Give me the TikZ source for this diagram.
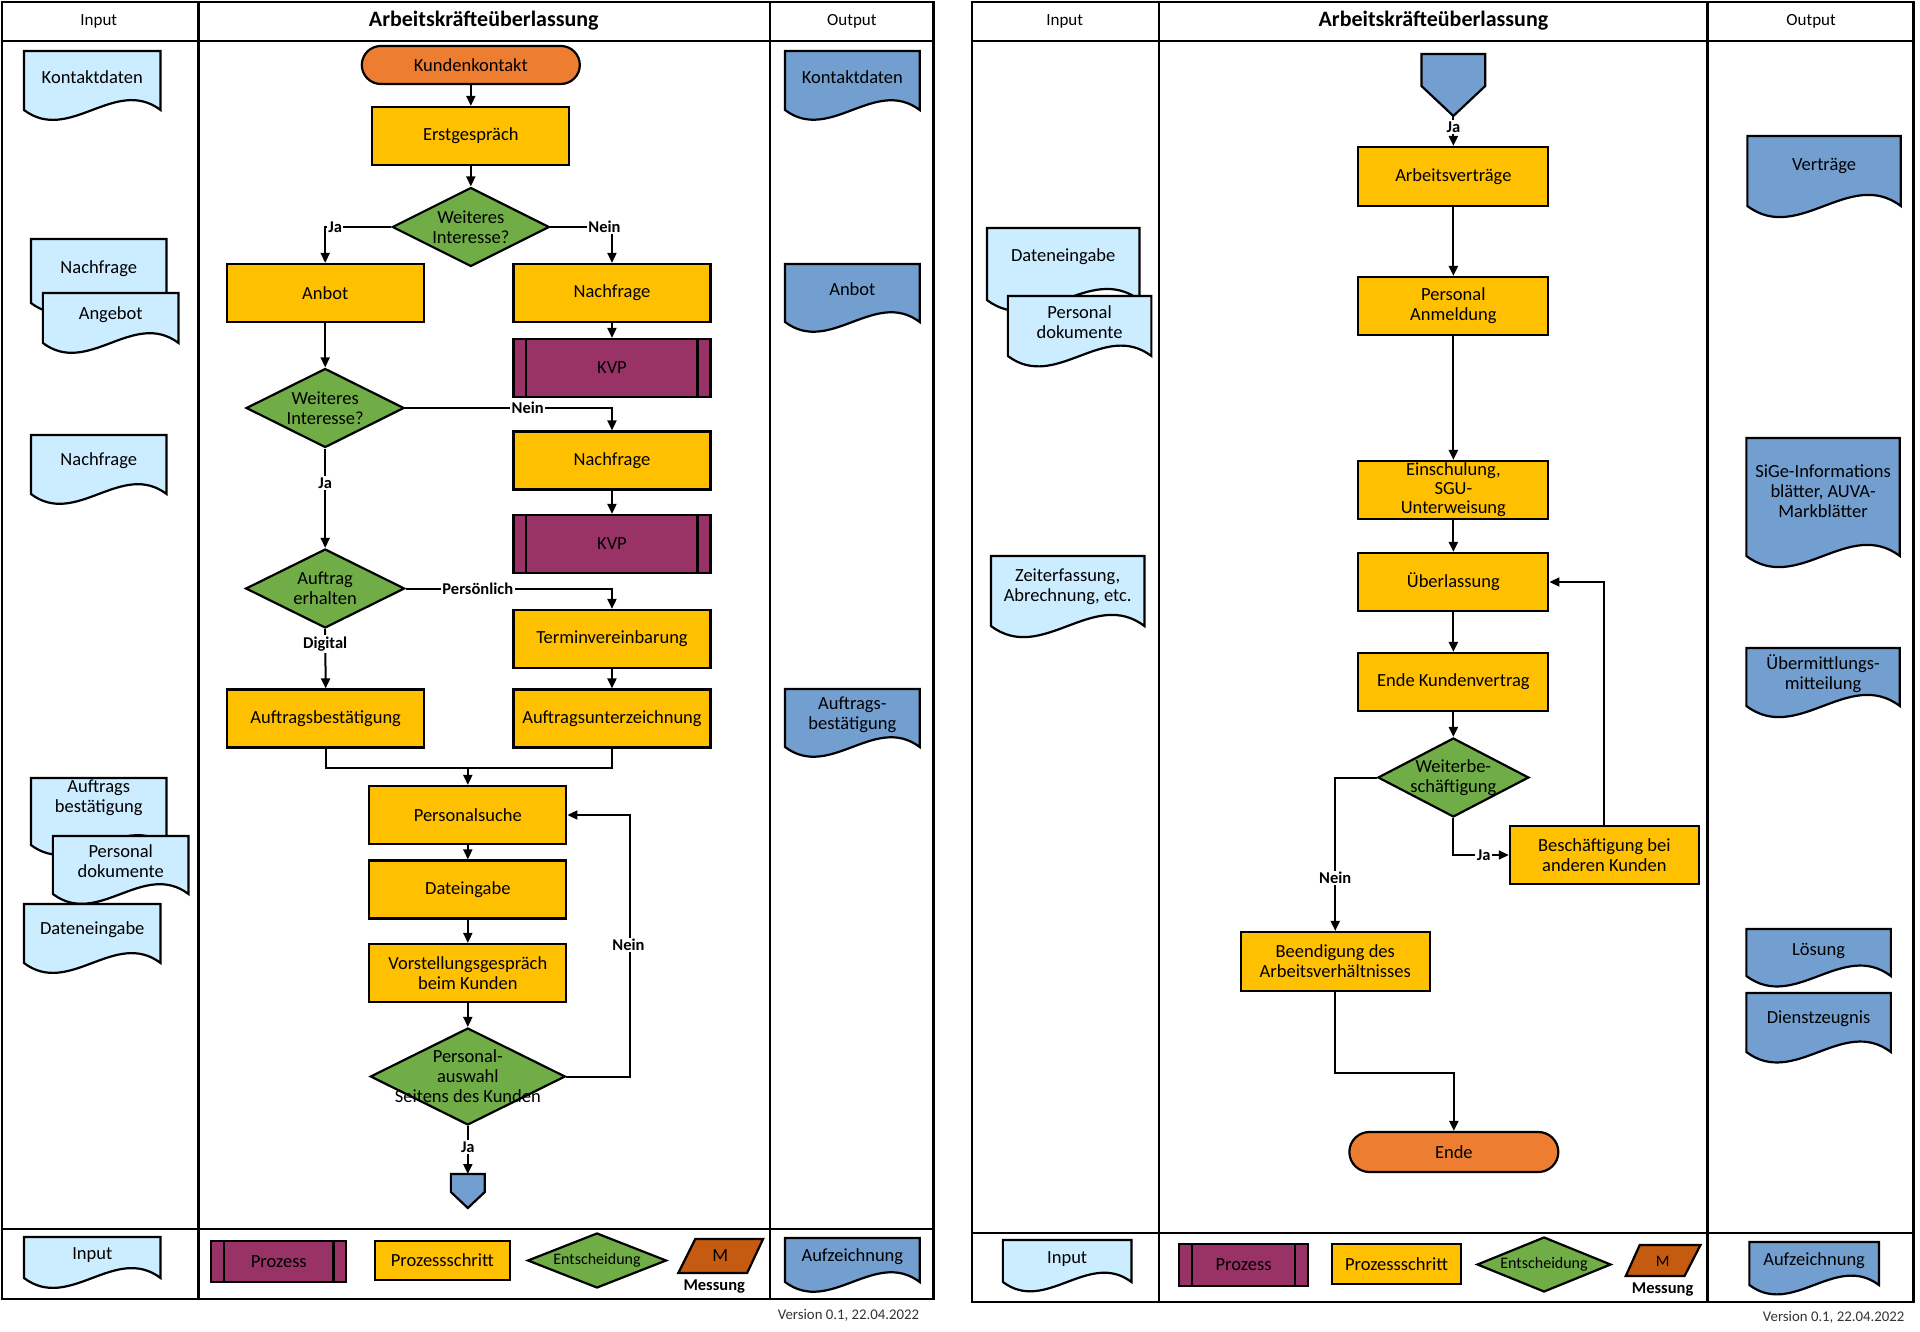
\documentclass[tikz,border=0pt]{standalone}
\usepackage{fontspec}
\setmainfont{Carlito}
\usetikzlibrary{shapes.geometric,arrows.meta,calc}
\definecolor{inblue}{RGB}{204,236,255}
\definecolor{outblue}{RGB}{114,159,207}
\definecolor{stepyel}{RGB}{255,192,0}
\definecolor{decgreen}{RGB}{112,173,71}
\definecolor{procpur}{RGB}{153,51,102}
\definecolor{termor}{RGB}{237,125,49}
\definecolor{measor}{RGB}{197,90,17}
\tikzset{
 shapeline/.style={line width=2.2pt, draw=black},
 ntext/.style={font=\fontsize{18.5}{20}\selectfont, align=center, inner sep=0pt},
 stepbox/.style={rectangle, shapeline, fill=stepyel, minimum width=197pt, minimum height=58pt, ntext},
 procbox/.style={rectangle, shapeline, fill=procpur, minimum width=197pt, minimum height=58pt, ntext},
 termbox/.style={rectangle, rounded corners=19pt, shapeline, fill=termor, ntext},
 decbox/.style={diamond, shapeline, fill=decgreen, inner sep=0pt},
 conn/.style={line width=2pt, -{Triangle[length=10pt,width=9pt]}},
 plainline/.style={line width=2pt},
 lab/.style={font=\bfseries\fontsize{16.5}{18}\selectfont, fill=white, inner sep=1.5pt},
 tabline/.style={line width=2.2pt},
 hdr/.style={font=\fontsize{17}{20}\selectfont},
 titletext/.style={font=\bfseries\fontsize{22}{24}\selectfont},
 vers/.style={anchor=east, font=\fontsize{14.8}{16}\selectfont, text=black!80},
 meslab/.style={font=\bfseries\fontsize{16.5}{18}\selectfont},
 dectext/.style={ntext, font=\fontsize{16}{18}\selectfont},
}
% #1 name, #2 left, #3 top, #4 right, #5 side bottom, #6 fill, #7 text y, #8 text
\newcommand{\docu}[8]{%
 \filldraw[shapeline, fill=#6] (#2,#3) -- (#4,#3) -- (#4,#5)
   .. controls ({#4-(#4-#2)/3},{#5-0.25*(#4-#2)}) and ({#2+(#4-#2)/3},{#5+0.25*(#4-#2)}) .. (#2,#5) -- cycle;
 \node[ntext] (#1) at ({(#2+#4)/2},#7) {#8};}
\newcommand{\procbars}[1]{%
 \draw[shapeline] ([xshift=14pt]#1.north west) -- ([xshift=14pt]#1.south west)
   ([xshift=-14pt]#1.north east) -- ([xshift=-14pt]#1.south east);}
\begin{document}
\begin{tikzpicture}[x=1pt,y=-1pt]
\fill[white] (0,0) rectangle (1920,1332);
\useasboundingbox (0,0) rectangle (1920,1332);

% ================= LEFT TABLE =================
\begin{scope}[x=0.9975pt]
\draw[tabline] (2,41) -- (936,41) (2,1229) -- (936,1229) (199,2) -- (199,1299) (772,2) -- (772,1299);
\draw[line width=2.6pt] (2,2) rectangle (936,1299);
\node[hdr] (hInL) at (99,21) {Input};
\node[titletext] (hTitL) at (485,21) {Arbeitskräfteüberlassung};
\node[hdr] (hOutL) at (854,21) {Output};

% input docs
\docu{inKon}{24}{51}{161}{110}{inblue}{77}{Kontaktdaten}
\docu{inNf}{31}{239}{167}{303}{inblue}{269}{Nachfrage}
\docu{inAng}{43}{293}{179}{343}{inblue}{315}{Angebot}
\docu{inNf2}{31}{435}{167}{494}{inblue}{461}{Nachfrage}
\docu{inAuf}{31}{778}{167}{845}{inblue}{797.5}{Auftrags\\bestätigung}
\docu{inPer}{53}{836}{189}{894}{inblue}{861.5}{Personal\\dokumente}
\docu{inDat}{24}{904}{161}{963}{inblue}{930}{Dateneingabe}
% output docs
\docu{outKon}{787}{51}{922}{110}{outblue}{77}{Kontaktdaten}
\docu{outAnb}{787}{264}{922}{322}{outblue}{289}{Anbot}
\docu{outAuf}{787}{689}{922}{747}{outblue}{714.5}{Auftrags-\\bestätigung}

% process nodes
\node[termbox, minimum width=218pt, minimum height=38pt] (kk) at (472,65) {Kundenkontakt};
\node[stepbox] (eg) at (472,136) {Erstgespräch};
\node[decbox, minimum width=157pt, minimum height=79pt] (d1) at (472,227) {};
\node[ntext] (d1t) at (d1) {Weiteres\\Interesse?};
\node[stepbox] (anbot) at (326,293) {Anbot};
\node[stepbox] (nf1) at (613.5,293) {Nachfrage};
\node[procbox] (kvp1) at (613.5,368) {KVP};
\procbars{kvp1}
\node[decbox, minimum width=158pt, minimum height=79pt] (d2) at (326,408) {};
\node[ntext] (d2t) at (d2) {Weiteres\\Interesse?};
\node[stepbox] (nf2) at (613.5,460.5) {Nachfrage};
\node[procbox] (kvp2) at (613.5,544) {KVP};
\procbars{kvp2}
\node[decbox, minimum width=159pt, minimum height=79pt] (ae) at (326,588.5) {};
\node[ntext] (aet) at (ae) {Auftrag\\erhalten};
\node[stepbox] (tv) at (613.5,639) {Terminvereinbarung};
\node[stepbox] (ab) at (326.5,718.5) {Auftragsbestätigung};
\node[stepbox] (au) at (613.5,718.5) {Auftragsunterzeichnung};
\coordinate (mrg) at (469,768);
\node[stepbox] (ps) at (469,815) {Personalsuche};
\node[stepbox] (dat) at (469,889.5) {Dateingabe};
\node[stepbox] (vg) at (469,973) {Vorstellungsgespräch\\beim Kunden};
\node[decbox, minimum width=195pt, minimum height=97pt] (pa) at (469,1076.5) {};
\node[ntext] (pat) at (pa) {Personal-\\auswahl\\Seitens des Kunden};
\filldraw[shapeline, fill=outblue] (452,1174) -- (486,1174) -- (486,1192) -- (469,1208) -- (452,1192) -- cycle;
\coordinate (off1) at (469,1174);

% connectors
\draw[conn] (kk.south) -- (eg.north);
\draw[conn] (eg.south) -- (d1.north);
\draw[conn] (d1.west) -| (anbot.north) node[lab] at (336,227) {Ja};
\draw[conn] (d1.east) -| (nf1.north) node[lab] at (606,227) {Nein};
\draw[conn] (anbot.south) -- (d2.north);
\draw[conn] (nf1.south) -- (kvp1.north);
\draw[conn] (d2.east) -| (nf2.north) node[lab] at (529,408) {Nein};
\draw[conn] (nf2.south) -- (kvp2.north);
\draw[conn] (d2.south) -- (ae.north) node[lab] at (326,483) {Ja};
\draw[conn] (ae.east) -| (tv.north) node[lab] at (479,588.5) {Persönlich};
\draw[conn] (ae.south) -- (ab.north) node[lab] at (326,644) {Digital};
\draw[conn] (tv.south) -- (au.north);
\draw[plainline] (ab.south) |- (mrg) -| (au.south);
\draw[conn] (mrg) -- (ps.north);
\draw[conn] (ps.south) -- (dat.north);
\draw[conn] (dat.south) -- (vg.north);
\draw[conn] (vg.south) -- (pa.north);
\draw[conn] (pa.east) -- ++(64,0) |- (ps.east) node[lab] at (630,945) {Nein};
\draw[conn] (pa.south) -- (off1) node[lab] at (469,1147) {Ja};

% legend left
\docu{lgInL}{24}{1237}{161}{1278}{inblue}{1255}{Input}
\node[procbox, minimum width=135pt, minimum height=41pt] (lgPrL) at (279.5,1261.5) {Prozess};
\procbars{lgPrL}
\node[stepbox, minimum width=135pt, minimum height=39pt] (lgStL) at (443.5,1260.5) {Prozessschritt};
\node[decbox, minimum width=139pt, minimum height=55pt] (lgDeL) at (598.5,1260.5) {};
\node[dectext] (lgDeLt) at (lgDeL) {Entscheidung};
\filldraw[shapeline, fill=measor] (697,1239) -- (765,1239) -- (749,1273) -- (680,1273) -- cycle;
\node[ntext] (lgMeL) at (722,1256) {M};
\node[meslab] (lgMeLt) at (716,1287) {Messung};
\docu{lgAuL}{787}{1238}{922}{1282}{outblue}{1257}{Aufzeichnung}
\node[vers] (verL) at (925,1315) {Version 0.1, 22.04.2022};
\end{scope}

% ================= RIGHT TABLE =================
\begin{scope}[x=0.9966pt, xshift=3.3pt]
\draw[tabline] (972,41) -- (1917,41) (972,1233) -- (1917,1233) (1160,2) -- (1160,1302) (1710,2) -- (1710,1302);
\draw[line width=2.6pt] (972,2) rectangle (1917,1302);
\node[hdr] (hInR) at (1065,21) {Input};
\node[titletext] (hTitR) at (1435,21) {Arbeitskräfteüberlassung};
\node[hdr] (hOutR) at (1814,21) {Output};

\docu{inDatR}{987}{228}{1140}{300}{inblue}{257}{Dateneingabe}
\docu{inPerR}{1008}{296}{1152}{356}{inblue}{322}{Personal\\dokumente}
\docu{inZeit}{991}{556}{1145}{626}{inblue}{586.5}{Zeiterfassung,\\Abrechnung, etc.}

\docu{outVer}{1750}{136}{1904}{206}{outblue}{166}{Verträge}
\docu{outSiGe}{1749}{438}{1903}{556}{outblue}{491.5}{SiGe-Informations\\blätter, AUVA-\\Markblätter}
\docu{outUeb}{1749}{648}{1903}{706}{outblue}{673.5}{Übermittlungs-\\mitteilung}
\docu{outLoe}{1749}{929}{1894}{976}{outblue}{951}{Lösung}
\docu{outDie}{1749}{993}{1894}{1052}{outblue}{1019}{Dienstzeugnis}

\filldraw[shapeline, fill=outblue] (1423,54) -- (1487,54) -- (1487,86) -- (1455,116) -- (1423,86) -- cycle;
\coordinate (off2) at (1455,116);
\node[stepbox, minimum width=190pt, minimum height=59pt] (av) at (1455,176.5) {Arbeitsverträge};
\node[stepbox, minimum width=190pt, minimum height=58pt] (pan) at (1455,306) {Personal\\Anmeldung};
\node[stepbox, minimum width=190pt, minimum height=58pt, font=\fontsize{18.5}{19}\selectfont] (ein) at (1455,490) {Einschulung,\\SGU-\\Unterweisung};
\node[stepbox, minimum width=190pt, minimum height=58pt] (ub) at (1455,582) {Überlassung};
\node[stepbox, minimum width=190pt, minimum height=58pt] (ek) at (1455,682) {Ende Kundenvertrag};
\node[decbox, minimum width=151pt, minimum height=79pt] (wb) at (1455,777.5) {};
\node[ntext] (wbt) at (wb) {Weiterbe-\\schäftigung};
\node[stepbox, minimum width=189pt, minimum height=58pt] (bes) at (1606.5,855) {Beschäftigung bei\\anderen Kunden};
\node[stepbox, minimum width=189pt, minimum height=59pt] (bee) at (1336.5,961.5) {Beendigung des\\Arbeitsverhältnisses};
\node[termbox, minimum width=209pt, minimum height=40pt, rounded corners=20pt] (ende) at (1455.5,1152) {Ende};

\draw[conn] (off2) -- (av.north) node[lab] at (1455,127) {Ja};
\draw[conn] (av.south) -- (pan.north);
\draw[conn] (pan.south) -- (ein.north);
\draw[conn] (ein.south) -- (ub.north);
\draw[conn] (ub.south) -- (ek.north);
\draw[conn] (ek.south) -- (wb.north);
\draw[conn] (wb.south) |- (bes.west) node[lab] at (1485.5,855) {Ja};
\draw[conn] (bes.north) |- (ub.east);
\draw[conn] (wb.west) -| (bee.north) node[lab] at (1336.5,878) {Nein};
\draw[conn] (bee.south) -- ++(0,81) -| (ende.north);

% legend right
\docu{lgInR}{1003}{1240}{1132}{1282}{inblue}{1259}{Input}
\node[procbox, minimum width=129pt, minimum height=42pt] (lgPrR) at (1244.5,1265) {Prozess};
\procbars{lgPrR}
\node[stepbox, minimum width=129pt, minimum height=40pt] (lgStR) at (1398,1264) {Prozessschritt};
\node[decbox, minimum width=134pt, minimum height=55pt] (lgDeR) at (1546,1264.5) {};
\node[dectext] (lgDeRt) at (lgDeR) {Entscheidung};
\filldraw[shapeline, fill=measor] (1642,1245) -- (1703,1245) -- (1687,1276) -- (1628,1276) -- cycle;
\node[ntext, font=\fontsize{16}{18}\selectfont] (lgMeR) at (1665,1261) {M};
\node[meslab] (lgMeRt) at (1665,1290) {Messung};
\docu{lgAuR}{1752}{1242}{1882}{1285}{outblue}{1261}{Aufzeichnung}
\node[vers] (verR) at (1911,1317) {Version 0.1, 22.04.2022};
\end{scope}
\end{tikzpicture}
\end{document}
